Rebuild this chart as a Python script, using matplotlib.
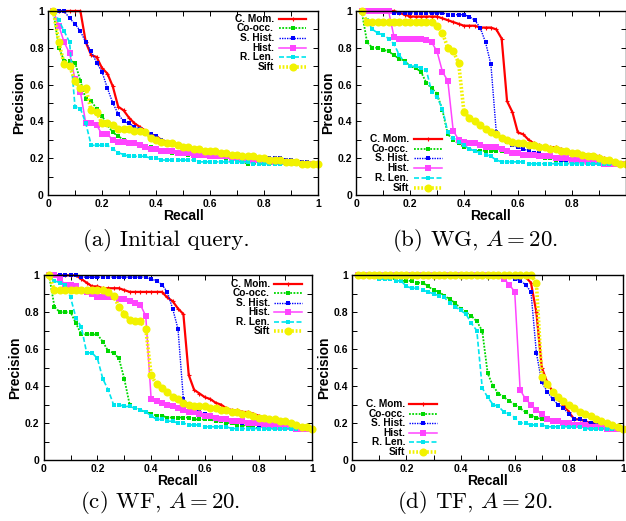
import matplotlib
matplotlib.use("Agg")
import matplotlib.pyplot as plt
from matplotlib.ticker import MultipleLocator, FixedLocator

plt.rcParams['font.family'] = ['Liberation Sans', 'DejaVu Sans']
plt.rcParams['mathtext.fontset'] = 'cm'

recall = [0.02, 0.04, 0.06, 0.08, 0.10, 0.12, 0.14, 0.16, 0.18, 0.20,
          0.22, 0.24, 0.26, 0.28, 0.30, 0.32, 0.34, 0.36, 0.38, 0.40,
          0.42, 0.44, 0.46, 0.48, 0.50, 0.52, 0.54, 0.56, 0.58, 0.60,
          0.62, 0.64, 0.66, 0.68, 0.70, 0.72, 0.74, 0.76, 0.78, 0.80,
          0.82, 0.84, 0.86, 0.88, 0.90, 0.92, 0.94, 0.96, 0.98, 1.00]

series_names = ["C. Mom.", "Co-occ.", "S. Hist.", "Hist.", "R. Len.", "Sift"]
captions = ["(a) Initial query.", "(b) WG, $A=20$.", "(c) WF, $A=20$.", "(d) TF, $A=20$."]
tick_values = [0, 0.2, 0.4, 0.6, 0.8, 1.0]
tick_labels = ['0', '0.2', '0.4', '0.6', '0.8', '1']

# ---- (a) Initial query ----
a_cmom = [1, 1, 1, 1, 1, 1, .83, .76, .75, .69, .66, .59, .48, .46, .42, .39, .37, .35, .33, .32,
          .30, .29, .28, .27, .26, .26, .25, .25, .24, .24, .23, .23, .22, .22, .21, .21, .21, .20, .20, .20,
          .19, .19, .19, .18, .18, .18, .18, .17, .17, .17]
a_cooc = [1, .80, .73, .73, .72, .62, .52, .51, .47, .43, .38, .34, .32, .30, .29, .29, .27, .26, .26, .25,
          .24, .24, .23, .23, .23, .22, .22, .22, .21, .21, .21, .21, .20, .20, .19, .18, .17, .17, .17, .17,
          .17, .17, .17, .17, .17, .17, .17, .17, .17, .17]
a_shist = [1, 1, 1, .96, .93, .89, .83, .78, .72, .67, .58, .50, .44, .40, .39, .37, .36, .34, .33, .32,
           .30, .29, .28, .27, .26, .26, .25, .25, .24, .24, .23, .23, .22, .22, .22, .21, .21, .21, .20, .20,
           .20, .20, .20, .19, .19, .18, .18, .18, .17, .17]
a_hist = [1, .92, .83, .77, .63, .56, .39, .39, .38, .33, .33, .30, .29, .29, .28, .28, .27, .26, .25, .25,
          .24, .24, .24, .23, .23, .23, .22, .22, .22, .21, .21, .21, .21, .20, .20, .20, .19, .19, .19, .19,
          .19, .18, .18, .18, .18, .18, .17, .17, .17, .17]
a_rlen = [1, .95, .89, .83, .48, .47, .39, .27, .27, .27, .27, .25, .23, .22, .21, .21, .21, .21, .20, .20,
          .19, .19, .19, .19, .19, .19, .19, .18, .18, .18, .18, .18, .18, .18, .18, .18, .18, .17, .17, .17,
          .17, .17, .17, .17, .17, .17, .17, .17, .17, .17]
a_sift = [1, .83, .71, .70, .62, .58, .58, .46, .45, .39, .39, .38, .36, .36, .36, .35, .35, .34, .31, .30,
          .29, .28, .28, .27, .26, .26, .25, .25, .24, .24, .24, .23, .23, .22, .22, .21, .21, .21, .20, .20,
          .19, .19, .19, .18, .18, .18, .17, .17, .17, .17]

# ---- (b) WG ----
b_cmom = [1, 1, 1, 1, 1, 1, 1, .99, .98, .97, .97, .97, .97, .97, .97, .96, .95, .94, .93, .92,
          .92, .92, .91, .91, .91, .90, .85, .51, .45, .34, .33, .30, .28, .27, .26, .26, .26, .25, .24, .23,
          .23, .22, .22, .22, .21, .20, .19, .18, .17, .17]
b_cooc = [1, .83, .80, .80, .79, .78, .76, .74, .73, .70, .69, .67, .61, .58, .55, .46, .33, .30, .28, .26,
          .25, .24, .24, .24, .24, .24, .24, .24, .23, .23, .22, .22, .21, .21, .20, .20, .19, .19, .18, .18,
          .18, .18, .17, .17, .17, .17, .17, .17, .17, .17]
b_shist = [1, 1, 1, 1, 1, 1, .99, .99, .99, .99, .99, .99, .99, .99, .99, .99, .98, .98, .98, .98,
           .97, .95, .91, .83, .71, .34, .31, .29, .27, .26, .25, .24, .23, .23, .22, .21, .20, .19, .19, .19,
           .19, .19, .19, .19, .18, .18, .18, .17, .17, .17]
b_hist = [1, 1, 1, 1, 1, 1, .86, .85, .85, .85, .85, .85, .84, .83, .78, .67, .62, .35, .30, .29,
          .28, .28, .27, .26, .26, .26, .25, .24, .23, .23, .22, .22, .22, .21, .21, .21, .20, .20, .20, .19,
          .19, .19, .18, .18, .18, .17, .17, .17, .17, .17]
b_rlen = [1, .95, .90, .88, .87, .85, .82, .76, .72, .70, .70, .69, .68, .56, .53, .47, .34, .31, .29, .27,
          .25, .24, .23, .22, .21, .19, .18, .18, .18, .18, .18, .17, .17, .17, .17, .17, .17, .17, .17, .17,
          .17, .17, .17, .17, .17, .17, .17, .17, .17, .17]
b_sift = [1, .94, .94, .94, .94, .94, .94, .94, .94, .94, .94, .94, .94, .94, .92, .88, .80, .78, .72, .45,
          .42, .40, .38, .36, .34, .33, .31, .30, .29, .28, .28, .27, .27, .26, .26, .25, .25, .24, .24, .23,
          .23, .22, .21, .21, .20, .19, .19, .18, .17, .17]

# ---- (c) WF ----
c_cmom = [1, 1, 1, 1, 1, 1, .98, .96, .94, .94, .93, .93, .93, .93, .92, .91, .91, .91, .91, .91,
          .91, .91, .88, .86, .82, .79, .46, .38, .36, .34, .33, .31, .30, .28, .27, .27, .26, .26, .25, .24,
          .23, .23, .22, .21, .21, .20, .19, .18, .17, .17]
c_cooc = [1, .83, .80, .80, .80, .74, .68, .68, .68, .68, .64, .59, .58, .55, .44, .30, .28, .27, .26, .25,
          .24, .24, .23, .23, .23, .23, .23, .22, .22, .22, .22, .21, .21, .20, .20, .19, .19, .18, .18, .17,
          .17, .17, .17, .17, .17, .17, .17, .17, .17, .17]
c_shist = [1, 1, 1, 1, 1, 1, .99, .99, .99, .99, .99, .99, .99, .99, .99, .99, .99, .99, .99, .98,
           .97, .95, .91, .82, .71, .33, .30, .28, .26, .25, .24, .23, .22, .22, .21, .21, .20, .20, .20, .19,
           .19, .19, .18, .18, .18, .17, .17, .17, .17, .17]
c_hist = [1, 1, .98, .95, .95, .94, .92, .91, .90, .88, .88, .88, .88, .87, .87, .86, .85, .84, .78, .33,
          .32, .31, .30, .29, .28, .27, .26, .26, .25, .24, .24, .23, .22, .22, .21, .21, .21, .20, .20, .20,
          .19, .19, .19, .18, .18, .18, .17, .17, .17, .17]
c_rlen = [1, .97, .96, .95, .88, .77, .72, .58, .58, .55, .44, .38, .30, .30, .29, .29, .28, .27, .26, .24,
          .22, .22, .21, .21, .20, .20, .19, .19, .19, .18, .18, .18, .18, .18, .17, .17, .17, .17, .17, .17,
          .17, .17, .17, .17, .17, .17, .17, .17, .17, .17]
c_sift = [1, .92, .92, .92, .92, .92, .92, .92, .92, .92, .92, .91, .89, .83, .79, .76, .75, .75, .71, .46,
          .41, .39, .37, .34, .33, .31, .30, .29, .29, .29, .28, .28, .27, .27, .26, .26, .25, .25, .24, .23,
          .23, .22, .22, .21, .21, .20, .19, .18, .18, .17]

# ---- (d) TF ----
d_cmom = [1, 1, 1, 1, 1, 1, 1, 1, 1, 1, 1, 1, 1, 1, 1, 1, 1, 1, 1, 1,
          1, 1, 1, 1, 1, 1, 1, 1, 1, 1, 1, .99, .96, .80, .50, .42, .37, .33, .30, .26,
          .22, .22, .21, .20, .20, .19, .19, .18, .17, .17]
d_cooc = [1, 1, 1, 1, 1, .99, .98, .98, .97, .97, .97, .96, .96, .94, .92, .91, .89, .87, .85, .82,
          .80, .78, .75, .70, .47, .40, .36, .34, .32, .30, .28, .26, .24, .23, .22, .22, .21, .21, .20, .20,
          .19, .19, .19, .18, .18, .18, .18, .17, .17, .17]
d_shist = [1, 1, 1, 1, 1, 1, 1, 1, 1, 1, 1, 1, 1, 1, 1, 1, 1, 1, 1, 1,
           1, 1, 1, 1, 1, 1, 1, 1, 1, .98, .97, .95, .91, .58, .42, .37, .33, .30, .28, .25,
           .22, .22, .21, .20, .20, .19, .18, .18, .17, .17]
d_hist = [1, 1, 1, 1, 1, 1, 1, 1, 1, 1, 1, 1, 1, 1, 1, 1, 1, 1, 1, 1,
          1, 1, 1, 1, 1, 1, 1, .98, .95, .91, .38, .33, .30, .27, .25, .22, .21, .21, .20, .20,
          .19, .19, .19, .18, .18, .18, .17, .17, .17, .17]
d_rlen = [1, 1, 1, .99, .98, .98, .98, .97, .97, .94, .93, .93, .92, .91, .90, .89, .88, .85, .83, .81,
          .79, .74, .70, .39, .34, .30, .29, .26, .25, .23, .20, .20, .19, .19, .19, .18, .18, .18, .18, .18,
          .18, .18, .17, .17, .17, .17, .17, .17, .17, .17]
d_sift = [1, 1, 1, 1, 1, 1, 1, 1, 1, 1, 1, 1, 1, 1, 1, 1, 1, 1, 1, 1,
          1, 1, 1, 1, 1, 1, 1, 1, 1, 1, 1, 1, 1, .96, .45, .41, .37, .34, .32, .30,
          .28, .26, .25, .24, .22, .21, .20, .19, .18, .17]

panels = [
    [a_cmom, a_cooc, a_shist, a_hist, a_rlen, a_sift],
    [b_cmom, b_cooc, b_shist, b_hist, b_rlen, b_sift],
    [c_cmom, c_cooc, c_shist, c_hist, c_rlen, c_sift],
    [d_cmom, d_cooc, d_shist, d_hist, d_rlen, d_sift],
]

styles = [
    dict(color='#ff0000', ls='-', lw=1.6, marker='+', ms=3.5, mew=0.8),
    dict(color='#00d800', ls=(0, (1.0, 0.8)), lw=1.3, marker='s', ms=2.6, mew=0),
    dict(color='#0000ff', ls=(0, (1.0, 0.8)), lw=1.0, marker='s', ms=3.0, mew=0),
    dict(color='#ff44ff', ls='-', lw=1.1, marker='s', ms=4.2, mew=0),
    dict(color='#00e5ee', ls=(0, (3.0, 1.5)), lw=1.2, marker='s', ms=2.8, mew=0),
    dict(color='#f2f200', ls=(0, (0.5, 0.5)), lw=2.6, marker='o', ms=5.8, mew=0),
]

W, H = 626, 521
boxes_px = [(48, 11, 318, 195), (356.3, 11, 625.5, 195),
            (43.7, 275.3, 312.3, 460), (352.3, 275.3, 623, 460)]
legend_pos = [  # text right x, line x0, line x1, first row y, row step (axes fraction)
    (0.837, 0.857, 0.956, 0.957, 0.052),
    (0.195, 0.214, 0.317, 0.304, 0.0527),
    (0.842, 0.858, 0.960, 0.955, 0.0515),
    (0.196, 0.211, 0.313, 0.303, 0.052),
]
caption_xy_px = [(166, 240), (475, 240), (160, 502), (475, 502)]

fig = plt.figure(figsize=(W / 100, H / 100), dpi=100)

for i, (l, t, r, b) in enumerate(boxes_px):
    ax = fig.add_axes([l / W, 1 - b / H, (r - l) / W, (b - t) / H])
    for vals, st in zip(panels[i], styles):
        ax.plot(recall, vals, clip_on=False, **st)
    ax.set_xlim(0, 1)
    ax.set_ylim(0, 1)
    ax.xaxis.set_major_locator(FixedLocator(tick_values))
    ax.yaxis.set_major_locator(FixedLocator(tick_values))
    ax.xaxis.set_minor_locator(MultipleLocator(0.1))
    ax.yaxis.set_minor_locator(MultipleLocator(0.1))
    xl = list(tick_labels)
    if i == 1:
        xl[-1] = ''  # cut off at the image edge in the reference
    ax.set_xticklabels(xl)
    ax.set_yticklabels(tick_labels)
    ax.tick_params(which='both', direction='in', top=True, right=True,
                   length=3.5, width=0.7, labelsize=7.5, pad=3)
    for lab in ax.get_xticklabels() + ax.get_yticklabels():
        lab.set_fontweight('bold')
    for sp in ax.spines.values():
        sp.set_linewidth(1.0)
    ax.set_xlabel('Recall', fontsize=10, fontweight='bold', labelpad=0)
    ax.set_ylabel('Precision', fontsize=10, fontweight='bold', labelpad=2)

    tx, x0, x1, y0, dy = legend_pos[i]
    for k, (name, st) in enumerate(zip(series_names, styles)):
        yy = y0 - k * dy
        ax.text(tx, yy, name, transform=ax.transAxes, ha='right', va='center',
                fontsize=7.3, fontweight='bold')
        ax.plot([x0, (x0 + x1) / 2, x1], [yy, yy, yy], transform=ax.transAxes,
                markevery=[1], clip_on=False, **st)

    cx, cy = caption_xy_px[i]
    fig.text(cx / W, 1 - cy / H, captions[i], ha='center', va='center',
             fontsize=16.5, family='cmr10')

fig.savefig('out.png', dpi=100)
